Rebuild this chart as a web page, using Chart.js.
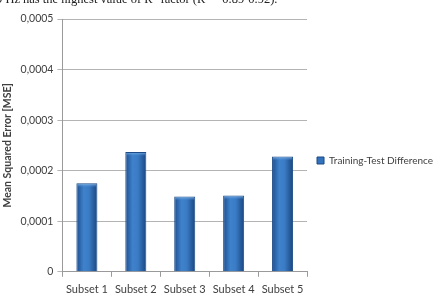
<!DOCTYPE html>
<html>
<head>
<meta charset="utf-8">
<script src="https://cdn.jsdelivr.net/npm/chart.js@4"></script>
<style>
  html, body { margin: 0; padding: 0; background: #fff; }
  #wrap { position: relative; width: 443px; height: 307px; overflow: hidden; }
  #caption {
    position: absolute; left: -4px; top: -8px; white-space: nowrap; line-height: 14px;
    font-family: "Liberation Serif", serif; font-size: 12.5px; color: #222;
  }
  canvas { position: absolute; left: 0; top: 0; }
</style>
</head>
<body>
<div id="wrap">
  <canvas id="mseChart" width="443" height="307"></canvas>
  <div id="caption">9 Hz has the highest value of R²-factor (R² = 0.89-0.92).</div>
</div>
<script>
// Data
const subsets = ["Subset 1", "Subset 2", "Subset 3", "Subset 4", "Subset 5"];
const diffValues = [0.000175, 0.000237, 0.000149, 0.000151, 0.000228];
const yTicks = [0, 0.0001, 0.0002, 0.0003, 0.0004, 0.0005];

const fontFamily = "Lato, 'Open Sans', sans-serif";
const textColor = "#404040";

// Cylinder-like shading for each bar
const barShade = {
  id: "barShade",
  beforeDatasetsDraw(chart) {
    const ctx = chart.ctx;
    chart.getDatasetMeta(0).data.forEach((bar) => {
      const x0 = bar.x - bar.width / 2;
      const x1 = bar.x + bar.width / 2;
      const g = ctx.createLinearGradient(x0, 0, x1, 0);
      g.addColorStop(0, "#1d4e8e");
      g.addColorStop(0.35, "#3f82cc");
      g.addColorStop(0.6, "#3a7bc4");
      g.addColorStop(1, "#1a4680");
      bar.options = { ...bar.options, backgroundColor: g };
    });
  },
  afterDatasetsDraw(chart) {
    const ctx = chart.ctx;
    ctx.save();
    chart.getDatasetMeta(0).data.forEach((bar) => {
      const x0 = bar.x - bar.width / 2 + 1;
      const g = ctx.createLinearGradient(0, bar.y, 0, bar.y + 4);
      g.addColorStop(0, "#7fb6ea");
      g.addColorStop(1, "rgba(80,140,210,0)");
      ctx.fillStyle = g;
      ctx.fillRect(x0, bar.y + 1, bar.width - 2, 4);
    });
    ctx.restore();
  },
};

function drawChart() {
  new Chart(document.getElementById("mseChart").getContext("2d"), {
    type: "bar",
    data: {
      labels: subsets,
      datasets: [
        {
          label: "Training-Test Difference",
          data: diffValues,
          backgroundColor: "#3372bd",
          borderColor: "#1c4a86",
          borderWidth: 1,
          categoryPercentage: 1,
          barPercentage: 0.43,
        },
      ],
    },
    options: {
      responsive: false,
      animation: false,
      layout: { padding: { left: 1, right: 0, top: 19, bottom: 5 } },
      scales: {
        x: {
          grid: {
            offset: true,
            drawOnChartArea: false,
            drawTicks: true,
            tickLength: 5,
            color: "#9a9a9a",
          },
          border: { color: "#9a9a9a" },
          ticks: { color: textColor, font: { family: fontFamily, size: 11 }, padding: 6 },
        },
        y: {
          min: 0,
          max: 0.0005,
          afterBuildTicks: (axis) => {
            axis.ticks = yTicks.map((v) => ({ value: v }));
          },
          grid: { color: "#b4b4b4", tickLength: 5 },
          border: { color: "#9a9a9a" },
          ticks: {
            color: textColor,
            font: { family: fontFamily, size: 10.5 },
            padding: 4,
            callback: (v) => (v === 0 ? "0" : v.toFixed(4).replace(".", ",")),
          },
          title: {
            display: true,
            text: "Mean Squared Error [MSE]",
            color: textColor,
            font: { family: fontFamily, size: 10.5, weight: "bold" },
            padding: { top: 0, bottom: 3 },
          },
        },
      },
      plugins: {
        legend: {
          position: "right",
          maxWidth: 160,
          labels: {
            color: textColor,
            font: { family: fontFamily, size: 10 },
            boxWidth: 7,
            boxHeight: 7,
            padding: 10,
          },
        },
        tooltip: { enabled: false },
      },
    },
    plugins: [barShade],
  });
}

Promise.all([
  document.fonts.load("11px Lato"),
  document.fonts.load("bold 11px Lato"),
]).then(drawChart, drawChart);
</script>
</body>
</html>
